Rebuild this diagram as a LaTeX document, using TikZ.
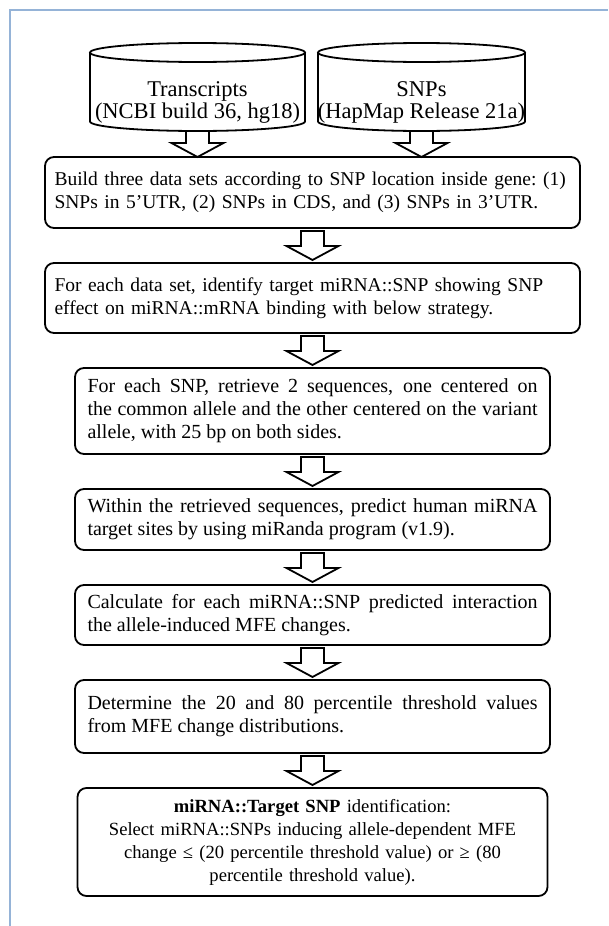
\documentclass[tikz,border=0pt]{standalone}
\usepackage{fontspec}
\setmainfont{Liberation Serif}
\usepackage{xcolor}
\usetikzlibrary{shapes, positioning, calc}
\definecolor{framecol}{HTML}{95B3D7}

\begin{document}
\begin{tikzpicture}[x=1pt, y=1pt,
		stepbox/.style={draw, line width=1.8pt, rounded corners=9pt, inner sep=0pt,
			outer sep=0pt, font=\fontsize{20}{23}\selectfont},
		widebox/.style={stepbox, minimum width=535pt, text width=516pt, align=left,
			font=\fontsize{19.5}{23}\selectfont},
		narrowbox/.style={stepbox, minimum width=475pt, text width=450pt, align=justify},
		database/.style={minimum height=88pt, inner sep=0pt, outer sep=0pt},
		dbline/.style={line width=1.8pt},
		dblabel/.style={align=center, font=\fontsize{22.5}{22}\selectfont},
		fatarrow/.style={draw, line width=1.8pt, fill=white, line join=miter,
			to path={($(\tikztostart)+(-11.5,-#1)$) -- ($(\tikztostart)+(11.5,-#1)$)
				-- ($(\tikztostart |- \tikztotarget)+(11.5,14+#1)$)
				-- ($(\tikztostart |- \tikztotarget)+(26,14+#1)$)
				-- ($(\tikztostart |- \tikztotarget)+(0,#1)$)
				-- ($(\tikztostart |- \tikztotarget)+(-26,14+#1)$)
				-- ($(\tikztostart |- \tikztotarget)+(-11.5,14+#1)$) -- cycle}},
		fatarrow/.default=3,
		node distance=35pt]
	%% Moldura
	\useasboundingbox (0,0) rectangle (608,-926);
	\draw [framecol, line width=2pt] (10,-926) -- (10,-10) -- (608,-10);
	
	%% Bancos de dados
	\node [database, minimum width=215pt] (transcripts) at (197.5,-87) {};
	\draw [dbline] ([yshift=-9.5pt]transcripts.north) ellipse [x radius=107.5pt, y radius=9.5pt];
	\draw [dbline] ([yshift=-9.5pt]transcripts.north west) -- ([yshift=9.5pt]transcripts.south west)
	arc [start angle=180, end angle=360, x radius=107.5pt, y radius=9.5pt]
	-- ([yshift=-9.5pt]transcripts.north east);
	\node [dblabel] (transcriptslabel) at ([yshift=-15pt]transcripts.center)
	{Transcripts\\(NCBI build 36, hg18)};
	
	\node [database, minimum width=207pt] (snps) at (421.5,-87) {};
	\draw [dbline] ([yshift=-9.5pt]snps.north) ellipse [x radius=103.5pt, y radius=9.5pt];
	\draw [dbline] ([yshift=-9.5pt]snps.north west) -- ([yshift=9.5pt]snps.south west)
	arc [start angle=180, end angle=360, x radius=103.5pt, y radius=9.5pt]
	-- ([yshift=-9.5pt]snps.north east);
	\node [dblabel] (snpslabel) at ([yshift=-15pt]snps.center)
	{SNPs\\(HapMap Release 21a)};
	
	%% Etapas
	\node [widebox, minimum height=71pt] (build) at (312.5,-192.5)
	{Build three data sets according to SNP location inside gene:~(1)\\
		SNPs in 5'UTR, (2) SNPs in CDS, and (3) SNPs in 3'UTR.};
	
	\node [widebox, minimum height=70pt, below=of build] (identify)
	{For each data set, identify target miRNA::SNP showing SNP\\
		effect on miRNA::mRNA binding with below strategy.};
	
	\node [narrowbox, minimum height=86pt, below=of identify] (retrieve)
	{For each SNP, retrieve 2 sequences, one centered on\linebreak
		the common allele and the other centered on the variant\linebreak
		allele, with 25 bp on both sides.};
	
	\node [narrowbox, minimum height=61pt, below=of retrieve] (predict)
	{Within the retrieved sequences, predict human miRNA\linebreak
		target sites by using miRanda program (v1.9).};
	
	\node [narrowbox, minimum height=60pt, below=of predict] (mfe)
	{Calculate for each miRNA::SNP predicted interaction\linebreak
		the allele-induced MFE changes.};
	
	\node [narrowbox, minimum height=73pt, below=of mfe] (threshold)
	{Determine the 20 and 80 percentile threshold values\linebreak
		from MFE change distributions.};
	
	\node [narrowbox, minimum width=470pt, align=center, minimum height=108pt,
	font=\fontsize{18.6}{23}\selectfont, below=of threshold] (target)
	{\textbf{miRNA::Target SNP} identification:\\
		Select miRNA::SNPs inducing allele-dependent MFE\\
		change ≤ (20 percentile threshold value) or ≥ (80\\
		percentile threshold value).};
	
	%% Setas
	\draw [fatarrow=0] (transcripts.south) to (build.north);
	\draw [fatarrow=0] (snps.south) to (build.north);
	\draw [fatarrow] (build.south) to (identify.north);
	\draw [fatarrow] (identify.south) to (retrieve.north);
	\draw [fatarrow] (retrieve.south) to (predict.north);
	\draw [fatarrow] (predict.south) to (mfe.north);
	\draw [fatarrow] (mfe.south) to (threshold.north);
	\draw [fatarrow] (threshold.south) to (target.north);
\end{tikzpicture}
\end{document}
